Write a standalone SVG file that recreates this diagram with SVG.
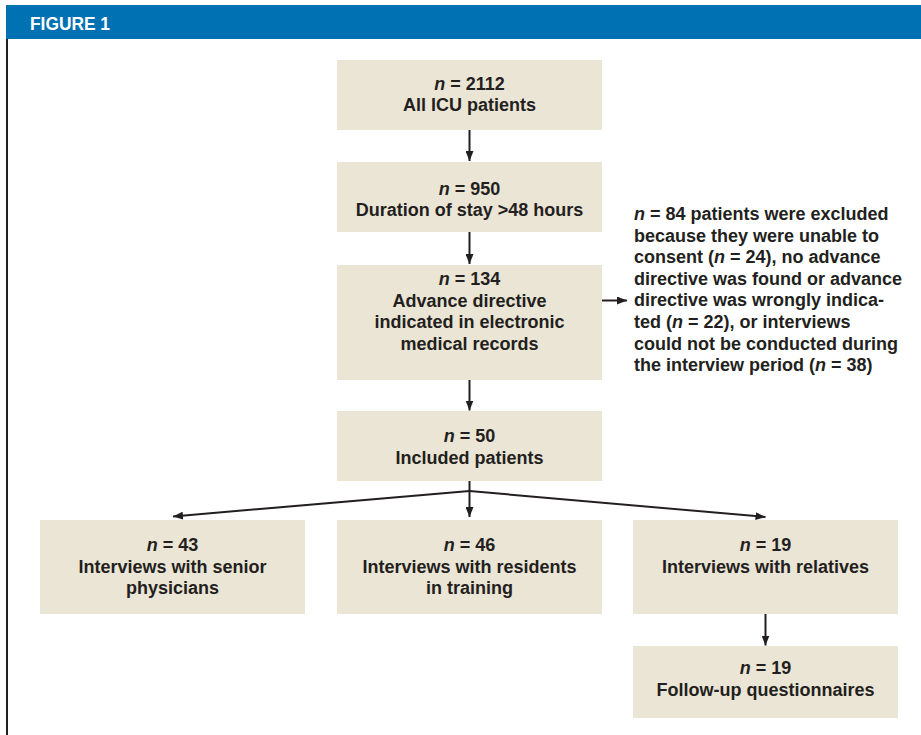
<svg xmlns="http://www.w3.org/2000/svg" width="921" height="735" viewBox="0 0 921 735">
<defs>
<marker id="ah" markerUnits="userSpaceOnUse" markerWidth="10" markerHeight="8" refX="10" refY="4" orient="auto">
<path d="M0,0 L10,4 L0,8 Z" fill="#231f20"/>
</marker>
<style>
.box{fill:#ebe5d6;}
.t{font-family:"Liberation Sans",Arial,sans-serif;font-size:18px;font-weight:bold;fill:#231f20;text-anchor:middle;}
.s{font-family:"Liberation Sans",Arial,sans-serif;font-size:18px;font-weight:bold;fill:#231f20;}
.i{font-style:italic;}
.c{fill:none;stroke:#231f20;stroke-width:2;}
</style>
</defs>
<rect x="0" y="0" width="921" height="735" fill="#ffffff"/>
<g id="header">
<rect x="6" y="5" width="915" height="34" fill="#0071b2"/>
<rect x="6" y="39" width="2" height="696" fill="#231f20"/>
<text x="30" y="30" font-family="'Liberation Sans',Arial,sans-serif" font-size="19" font-weight="bold" fill="#ffffff" textLength="80" lengthAdjust="spacingAndGlyphs">FIGURE 1</text>
</g>
<g id="n1">
<rect class="box" x="337" y="60" width="265" height="70"/>
<text class="t" x="469.5" y="90"><tspan class="i">n</tspan> = 2112</text>
<text class="t" x="469.5" y="111">All ICU patients</text>
</g>
<g id="n2">
<rect class="box" x="337" y="162" width="265" height="70"/>
<text class="t" x="469.5" y="195"><tspan class="i">n</tspan> = 950</text>
<text class="t" x="469.5" y="216">Duration of stay &gt;48 hours</text>
</g>
<g id="n3">
<rect class="box" x="337" y="265" width="265" height="115"/>
<text class="t" x="469.5" y="285"><tspan class="i">n</tspan> = 134</text>
<text class="t" x="469.5" y="306.5">Advance directive</text>
<text class="t" x="469.5" y="328">indicated in electronic</text>
<text class="t" x="469.5" y="349.5">medical records</text>
</g>
<g id="excluded">
<text class="s" x="634" y="220"><tspan class="i">n</tspan> = 84 patients were excluded</text>
<text class="s" x="634" y="241.6">because they were unable to</text>
<text class="s" x="634" y="263.2">consent (<tspan class="i">n</tspan> = 24), no advance</text>
<text class="s" x="634" y="284.8">directive was found or advance</text>
<text class="s" x="634" y="306.4">directive was wrongly indica-</text>
<text class="s" x="634" y="328">ted (<tspan class="i">n</tspan> = 22), or interviews</text>
<text class="s" x="634" y="349.6">could not be conducted during</text>
<text class="s" x="634" y="371.2">the interview period (<tspan class="i">n</tspan> = 38)</text>
</g>
<g id="n4">
<rect class="box" x="337" y="411" width="265" height="70"/>
<text class="t" x="469.5" y="442"><tspan class="i">n</tspan> = 50</text>
<text class="t" x="469.5" y="463.5">Included patients</text>
</g>
<g id="n5">
<rect class="box" x="40" y="520" width="265" height="94"/>
<text class="t" x="172.5" y="551"><tspan class="i">n</tspan> = 43</text>
<text class="t" x="172.5" y="572.5">Interviews with senior</text>
<text class="t" x="172.5" y="594">physicians</text>
</g>
<g id="n6">
<rect class="box" x="337" y="520" width="265" height="94"/>
<text class="t" x="469.5" y="551"><tspan class="i">n</tspan> = 46</text>
<text class="t" x="469.5" y="572.5">Interviews with residents</text>
<text class="t" x="469.5" y="594">in training</text>
</g>
<g id="n7">
<rect class="box" x="633" y="520" width="265" height="94"/>
<text class="t" x="765.5" y="551"><tspan class="i">n</tspan> = 19</text>
<text class="t" x="765.5" y="572.5">Interviews with relatives</text>
</g>
<g id="n8">
<rect class="box" x="633" y="646" width="265" height="72"/>
<text class="t" x="765.5" y="674"><tspan class="i">n</tspan> = 19</text>
<text class="t" x="765.5" y="695.5">Follow-up questionnaires</text>
</g>
<g id="connectors">
<line class="c" x1="469.5" y1="130" x2="469.5" y2="161" marker-end="url(#ah)"/>
<line class="c" x1="469.5" y1="232" x2="469.5" y2="264" marker-end="url(#ah)"/>
<line class="c" x1="602" y1="300.5" x2="627" y2="300.5" marker-end="url(#ah)"/>
<line class="c" x1="469.5" y1="380" x2="469.5" y2="410.5" marker-end="url(#ah)"/>
<line class="c" x1="469.5" y1="481" x2="469.5" y2="517" marker-end="url(#ah)"/>
<line class="c" x1="469.5" y1="491" x2="173" y2="516.5" marker-end="url(#ah)"/>
<line class="c" x1="469.5" y1="491" x2="765.5" y2="517" marker-end="url(#ah)"/>
<line class="c" x1="765.5" y1="614" x2="765.5" y2="645.5" marker-end="url(#ah)"/>
</g>
</svg>
